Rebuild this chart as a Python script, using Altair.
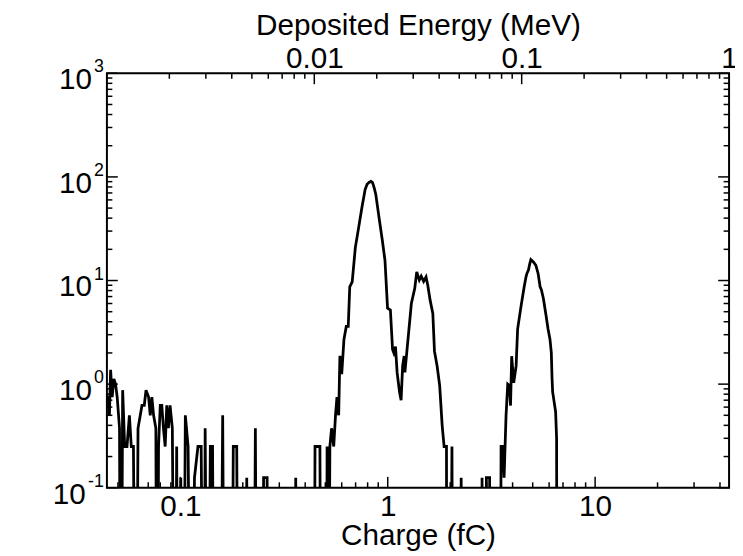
import altair as alt
import pandas as pd

# ---------------- data ----------------
charge = [
    0.0443, 0.0449, 0.0455, 0.0461, 0.0469, 0.0478, 0.0487, 0.0496, 0.0509, 0.0516,
    0.0527, 0.0539, 0.0553, 0.0568, 0.0580, 0.0594, 0.0611, 0.0625, 0.0641, 0.0653,
    0.0670, 0.0683, 0.0703, 0.0716, 0.0729, 0.0743, 0.0762, 0.0773, 0.0785, 0.0800,
    0.0814, 0.0829, 0.0845, 0.0860, 0.0876, 0.0892, 0.0915, 0.0942, 0.0960, 0.0978,
    0.1005, 0.1030, 0.1057, 0.1090, 0.1130, 0.1170, 0.1216, 0.1260, 0.1300, 0.1317,
    0.1357, 0.1395, 0.1430, 0.1460, 0.1550, 0.1600, 0.1640, 0.1760, 0.1800, 0.1870,
    0.1910, 0.2050, 0.2090, 0.2130, 0.2250, 0.2300, 0.2350, 0.2480, 0.2520, 0.2620,
    0.2660, 0.3550, 0.3600, 0.3650, 0.4400, 0.4460, 0.4710, 0.4780, 0.5050, 0.5100,
    0.5160, 0.5260, 0.5360, 0.5490, 0.5600, 0.5690, 0.5800, 0.5880, 0.6000, 0.6150,
    0.6310, 0.6450, 0.6560, 0.6740, 0.6980, 0.7240, 0.7500, 0.7780, 0.7950, 0.8150,
    0.8300, 0.8450, 0.8610, 0.8760, 0.9080, 0.9420, 0.9700, 0.9980, 1.0300, 1.0550,
    1.0700, 1.0900, 1.1100, 1.1400, 1.1600, 1.1800, 1.2000, 1.2100, 1.2500, 1.3000,
    1.3500, 1.3800, 1.4200, 1.4500, 1.4900, 1.5300, 1.5600, 1.6000, 1.6500, 1.6800,
    1.7300, 1.7800, 1.8300, 1.8700, 1.9200, 1.9300, 2.0000, 2.0400, 2.0700, 2.2300,
    2.2600, 2.2900, 2.8200, 2.8500, 2.8800, 2.9600, 2.9900, 3.1000, 3.1300, 3.4700,
    3.5200, 3.5800, 3.6400, 3.7200, 3.7900, 3.8600, 3.9100, 3.9600, 4.0500, 4.1600,
    4.2300, 4.3900, 4.5500, 4.6400, 4.6900, 4.7700, 4.8400, 4.9000, 5.0400, 5.1800,
    5.3100, 5.4300, 5.5100, 5.6300, 5.7800, 5.9300, 6.0600, 6.1500, 6.2000, 6.2400,
    6.4500, 6.5200, 6.5600, 44.0,
]
counts = [
    0.75, 0.75, 0.5, 1.375, 0.75, 1.125, 1.0, 0.75, 0.375, 0,
    0.875, 0.25, 0.25, 0.5, 0.25, 0.25, 0, 0.375, 0.5, 0.625,
    0.625, 0.875, 0.75, 0.5, 0.75, 0.5, 0.375, 0, 0.25, 0.625,
    0.625, 0.375, 0.25, 0.625, 0.375, 0.625, 0.375, 0, 0.25, 0,
    0.125, 0, 0.5, 0.25, 0, 0.125, 0.25, 0.25, 0, 0.375,
    0, 0.25, 0.25, 0, 0, 0.5, 0, 0, 0.25, 0.25,
    0, 0, 0.125, 0, 0, 0.375, 0, 0, 0.125, 0.125,
    0, 0, 0.125, 0, 0, 0.25, 0.25, 0, 0, 0.25,
    0, 0.25, 0.375, 0.25, 0.5, 0.75, 0.5, 1.875, 1.25, 2.7,
    3.6, 3.6, 8.7, 9.7, 20.9, 32.4, 50, 75.5, 85, 89,
    90.5, 88, 78, 67.6, 40.5, 24.3, 15.6, 5.4, 5.2, 2.16,
    2.0, 2.3, 1.29, 0.84, 0.70, 1.5, 1.87, 1.3, 2.6, 6.0,
    8.4, 12.1, 10.1, 11.0, 9.8, 10.8, 9.0, 6.5, 4.8, 2.08,
    1.5, 0.97, 0.40, 0.25, 0.25, 0, 0, 0.25, 0, 0,
    0.125, 0, 0, 0.125, 0, 0, 0.125, 0.125, 0, 0,
    0.25, 0.25, 0.125, 0.5, 1.0, 0.97, 0.62, 1.86, 1.03, 1.5,
    3.4, 5.6, 8.7, 10.8, 11.7, 12.6, 14.5, 15.9, 15.1, 14.0,
    11.7, 8.7, 8.1, 6.7, 4.8, 3.4, 2.7, 2.0, 1.12, 0.84,
    0.54, 0.30, 0, 0,
]

# energy conversion (MeV per fC) and axis ranges
MEV_PER_FC = 0.0226
E_MIN, E_MAX = 0.001, 1.0
Q_MIN, Q_MAX = E_MIN / MEV_PER_FC, E_MAX / MEV_PER_FC
Y_MIN, Y_MAX = 0.1, 1000

# tick values
y_major = [0.1, 1, 10, 100, 1000]
y_exp = ["-1", "0", "1", "2", "3"]
y_minor = [k * d for d in [0.1, 1, 10, 100] for k in range(2, 10)]
q_major = [0.1, 1, 10]
q_minor = [0.05, 0.06, 0.07, 0.08, 0.09] + [k * d for d in [0.1, 1] for k in range(2, 10)] + [20, 30, 40]
e_major = [0.01, 0.1]
e_labels = [0.01, 0.1, 1]
e_minor = [k * d for d in [0.001, 0.01, 0.1] for k in range(2, 10)]

# ---------------- layout ----------------
W, H = 629, 419
FONT = "Liberation Sans"
FS = 30
MAJ, MIN = 11, 5.5
TW = 1.5

xq = alt.Scale(type="log", domain=[Q_MIN, Q_MAX])
xe = alt.Scale(type="log", domain=[E_MIN, E_MAX])
ys = alt.Scale(type="log", domain=[Y_MIN, Y_MAX])

df = pd.DataFrame({"q": charge, "c": counts})
df["cp"] = df["c"].where(df["c"] > 0, 1e-4)  # zero counts fall below the log axis

line = alt.Chart(df).mark_line(color="black", strokeWidth=2.8, clip=True).encode(
    x=alt.X("q:Q", scale=xq, axis=alt.Axis(
        orient="bottom", title="Charge (fC)", values=q_major, format="~g",
        ticks=False, tickSize=0, domain=False, grid=False,
        labelFont=FONT, labelFontSize=FS, labelColor="black", labelPadding=28,
        labelBaseline="alphabetic", labelFlush=False, labelOverlap=False,
        titleFont=FONT, titleFontSize=FS, titleFontWeight="normal", titleColor="black",
        titleBaseline="alphabetic", titleY=57)),
    y=alt.Y("cp:Q", scale=ys, axis=alt.Axis(
        orient="left", title="Counts", labels=False, ticks=False, tickSize=0,
        domain=False, grid=False,
        titleFont=FONT, titleFontSize=FS, titleFontWeight="normal", titleColor="black",
        titleBaseline="alphabetic", titleX=-60)),
)

def qticks(vals, ln):
    return alt.Chart(pd.DataFrame({"q": vals})).mark_rule(color="black", strokeWidth=TW).encode(
        x=alt.X("q:Q", scale=xq, axis=None), y=alt.value(H), y2=alt.value(H - ln))

def eticks(vals, ln, axis=None):
    return alt.Chart(pd.DataFrame({"e": vals})).mark_rule(color="black", strokeWidth=TW).encode(
        x=alt.X("e:Q", scale=xe, axis=axis), y=alt.value(0), y2=alt.value(ln))

def yticks(vals, ln, right=False):
    x0 = W if right else 0
    x1 = W - ln if right else ln
    return alt.Chart(pd.DataFrame({"v": vals})).mark_rule(color="black", strokeWidth=TW).encode(
        y=alt.Y("v:Q", scale=ys, axis=None), x=alt.value(x0), x2=alt.value(x1))

top_axis = alt.Axis(
    orient="top", title="Deposited Energy (MeV)", values=e_labels, format="~g",
    ticks=False, tickSize=0, domain=False, grid=False,
    labelFont=FONT, labelFontSize=FS, labelColor="black", labelPadding=6,
    labelBaseline="alphabetic", labelFlush=False, labelOverlap=False,
    titleFont=FONT, titleFontSize=FS, titleFontWeight="normal", titleColor="black",
    titleBaseline="alphabetic", titleY=-39)

ylab = pd.DataFrame({"v": y_major, "exp": y_exp})
base1 = alt.Chart(ylab).transform_filter("length(datum.exp) == 1").mark_text(
    text="10", align="right", baseline="alphabetic", dy=16, font=FONT, fontSize=FS, color="black"
).encode(y=alt.Y("v:Q", scale=ys, axis=None), x=alt.value(-15))
base2 = alt.Chart(ylab).transform_filter("length(datum.exp) > 1").mark_text(
    text="10", align="right", baseline="alphabetic", dy=16, font=FONT, fontSize=FS, color="black"
).encode(y=alt.Y("v:Q", scale=ys, axis=None), x=alt.value(-21.5))
expo = alt.Chart(ylab).mark_text(
    align="right", baseline="alphabetic", dy=-1, font=FONT, fontSize=18, color="black"
).encode(y=alt.Y("v:Q", scale=ys, axis=None), x=alt.value(-3), text="exp:N")

chart = alt.layer(
    line,
    qticks(q_major, MAJ), qticks(q_minor, MIN),
    eticks(e_major, MAJ, top_axis), eticks(e_minor, MIN),
    yticks(y_major, MAJ), yticks(y_minor, MIN),
    yticks(y_major, MAJ, True), yticks(y_minor, MIN, True),
    base1, base2, expo,
).resolve_scale(x="independent").properties(
    width=W, height=H,
    padding={"left": 100, "top": 63, "right": 6, "bottom": 66},
    autosize=alt.AutoSizeParams(type="none"),
).configure(font=FONT).configure_view(stroke="black", strokeWidth=2)

chart.save("out.html", embed_options={"renderer": "svg", "actions": False})
